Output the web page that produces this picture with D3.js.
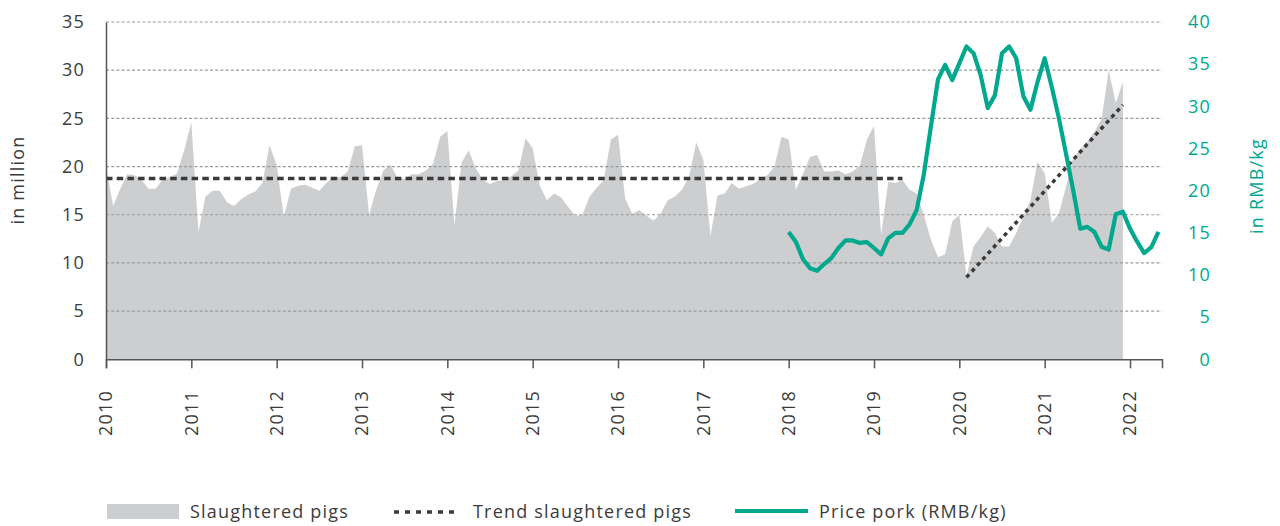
<!DOCTYPE html>
<html>
<head>
<meta charset="utf-8">
<script src="https://cdn.jsdelivr.net/npm/d3@7"></script>
<style>
  body { margin: 0; background: #fff; }
  svg text { font-family: "Open Sans", "DejaVu Sans", sans-serif; fill: #3c3c3c; letter-spacing: 1.2px; }
</style>
</head>
<body>
<svg id="chart" width="1280" height="526"></svg>
<script>
// month index 0 = Jan 2010
const years = d3.range(2010, 2023);

// slaughtered pigs, million head, Jan 2010 .. Dec 2021
const pigs = [
  20.0, 15.9, 17.7, 19.2, 19.1, 18.6, 17.7, 17.7, 18.7, 18.9, 19.3, 21.7,
  24.6, 13.2, 16.9, 17.5, 17.5, 16.3, 15.9, 16.6, 17.1, 17.4, 18.3, 22.2,
  20.2, 14.8, 17.7, 18.0, 18.1, 17.8, 17.5, 18.3, 18.95, 18.9, 19.5, 22.1,
  22.2, 15.0, 17.6, 19.6, 20.2, 18.8, 18.7, 19.2, 19.2, 19.6, 20.3, 23.1,
  23.7, 13.9, 20.4, 21.7, 19.8, 18.6, 18.2, 18.5, 18.6, 19.0, 19.6, 22.9,
  21.9, 18.0, 16.5, 17.2, 16.8, 15.8, 14.9, 15.0, 16.9, 17.8, 18.6, 22.8,
  23.3, 16.7, 15.1, 15.5, 14.9, 14.4, 15.1, 16.5, 16.9, 17.6, 19.0, 22.5,
  20.7, 12.8, 17.0, 17.2, 18.3, 17.7, 17.95, 18.2, 18.7, 19.1, 20.0, 23.1,
  22.8, 17.6, 19.2, 21.0, 21.2, 19.5, 19.5, 19.6, 19.2, 19.5, 20.05, 22.8,
  24.2, 12.9, 18.4, 18.3, 18.6, 17.6, 17.2, 15.0, 12.4, 10.6, 10.9, 14.3,
  15.0, 8.7, 11.7, 12.7, 13.8, 13.1, 11.7, 11.7, 13.1, 14.8, 16.5, 20.5,
  19.3, 14.2, 15.1, 17.9, 20.9, 21.8, 22.6, 23.6, 24.9, 30.0, 26.6, 28.8
];

// pork price RMB/kg, Jan 2018 .. May 2022
const priceStart = 96;
const price = [
  15.1, 13.95, 11.9, 10.8, 10.5, 11.3, 12.0, 13.2, 14.1, 14.1, 13.8, 13.9,
  13.2, 12.45, 14.35, 15.0, 15.0, 16.0, 17.7, 21.9, 27.6, 33.2, 34.9, 33.1,
  35.1, 37.1, 36.3, 33.7, 29.8, 31.3, 36.3, 37.1, 35.7, 31.2, 29.6, 32.9,
  35.7, 32.3, 28.6, 24.4, 20.1, 15.5, 15.7, 15.1, 13.35, 13.0, 17.2, 17.5,
  15.5, 13.95, 12.6, 13.3, 15.1
];

// trend lines: [month, value]
const trendFlat = [[0, 18.75], [112, 18.75]];
const trendRise = [[121, 8.5], [143, 26.4]];

const leftTicks = [0, 5, 10, 15, 20, 25, 30, 35];
const rightTicks = [0, 5, 10, 15, 20, 25, 30, 35, 40];

const green = '#00a88e';
const svg = d3.select('#chart');
const m = { left: 106, right: 1162, top: 22, bottom: 359.3 };

const x = d3.scaleLinear().domain([0, 148.5]).range([m.left, m.right]);
const y = d3.scaleLinear().domain([0, 35]).range([m.bottom, m.top]);
const y2 = d3.scaleLinear().domain([0, 40]).range([m.bottom, m.top]);

// area
svg.append('path')
  .datum(pigs)
  .attr('fill', '#cdced0')
  .attr('d', d3.area().x((d, i) => x(i)).y0(y(0)).y1(d => y(d)));

// gridlines
svg.append('g').selectAll('line').data(leftTicks.filter(d => d > 0)).join('line')
  .attr('x1', m.left).attr('x2', m.right)
  .attr('y1', d => y(d)).attr('y2', d => y(d))
  .attr('stroke', '#9a9a9a').attr('stroke-width', 1.2).attr('stroke-dasharray', '3,2.2');

// trends
const tl = d3.line().x(d => x(d[0])).y(d => y(d[1]));
svg.append('path').datum(trendFlat).attr('d', tl)
  .attr('fill', 'none').attr('stroke', '#3a3a3a').attr('stroke-width', 3.5).attr('stroke-dasharray', '6.5,4.2');
svg.append('path').datum(trendRise).attr('d', tl)
  .attr('fill', 'none').attr('stroke', '#3a3a3a').attr('stroke-width', 3.5).attr('stroke-dasharray', '4,4');

// price
svg.append('path')
  .datum(price)
  .attr('fill', 'none').attr('stroke', green).attr('stroke-width', 4.2)
  .attr('stroke-linejoin', 'round')
  .attr('d', d3.line().x((d, i) => x(priceStart + i)).y(d => y2(d)));

// left axis
const gl = svg.append('g').attr('transform', `translate(${m.left},0)`)
  .call(d3.axisLeft(y).tickValues(leftTicks).tickSize(0).tickPadding(21));
gl.select('.domain').attr('stroke', '#555').attr('stroke-width', 1.5);
gl.selectAll('text').attr('font-size', 18).style('fill', '#3c3c3c');

// right axis (labels only)
const gr = svg.append('g').attr('transform', `translate(${m.right},0)`)
  .call(d3.axisRight(y2).tickValues(rightTicks).tickSize(0).tickPadding(49));
gr.select('.domain').remove();
gr.selectAll('text').attr('font-size', 18).attr('text-anchor', 'end').style('fill', green);

// bottom axis
const gx = svg.append('g').attr('transform', `translate(0,${m.bottom})`)
  .call(d3.axisBottom(x).tickValues(years.map(yr => (yr - 2010) * 12)).tickSize(9).tickFormat(() => ''));
gx.select('.domain').attr('stroke', '#555').attr('stroke-width', 1.5);
gx.selectAll('.tick line').attr('stroke', '#555').attr('stroke-width', 1.5);

svg.append('g').selectAll('text').data(years).join('text')
  .attr('transform', d => `translate(${x((d - 2010) * 12)},390) rotate(-90)`)
  .attr('text-anchor', 'end').attr('dy', '0.35em')
  .attr('font-size', 18)
  .text(d => d);

// axis titles
svg.append('text').attr('transform', 'translate(18,180) rotate(-90)')
  .attr('text-anchor', 'middle').attr('dy', '0.35em').attr('font-size', 18).text('in million');
svg.append('text').attr('transform', 'translate(1257,186) rotate(-90)')
  .attr('text-anchor', 'middle').attr('dy', '0.35em').attr('font-size', 18)
  .style('fill', green).text('in RMB/kg');

// legend
const lg = svg.append('g');
lg.append('rect').attr('x', 107).attr('y', 504).attr('width', 72).attr('height', 15).attr('fill', '#cdced0');
lg.append('text').attr('x', 190).attr('y', 511.5).attr('dy', '0.35em').attr('font-size', 18).text('Slaughtered pigs');
lg.append('line').attr('x1', 394).attr('x2', 460).attr('y1', 512).attr('y2', 512)
  .attr('stroke', '#3a3a3a').attr('stroke-width', 3.5).attr('stroke-dasharray', '5,6');
lg.append('text').attr('x', 473).attr('y', 511.5).attr('dy', '0.35em').attr('font-size', 18).text('Trend slaughtered pigs');
lg.append('line').attr('x1', 735).attr('x2', 808).attr('y1', 511).attr('y2', 511)
  .attr('stroke', green).attr('stroke-width', 4.2);
lg.append('text').attr('x', 819).attr('y', 511.5).attr('dy', '0.35em').attr('font-size', 18).text('Price pork (RMB/kg)');
</script>
</body>
</html>
